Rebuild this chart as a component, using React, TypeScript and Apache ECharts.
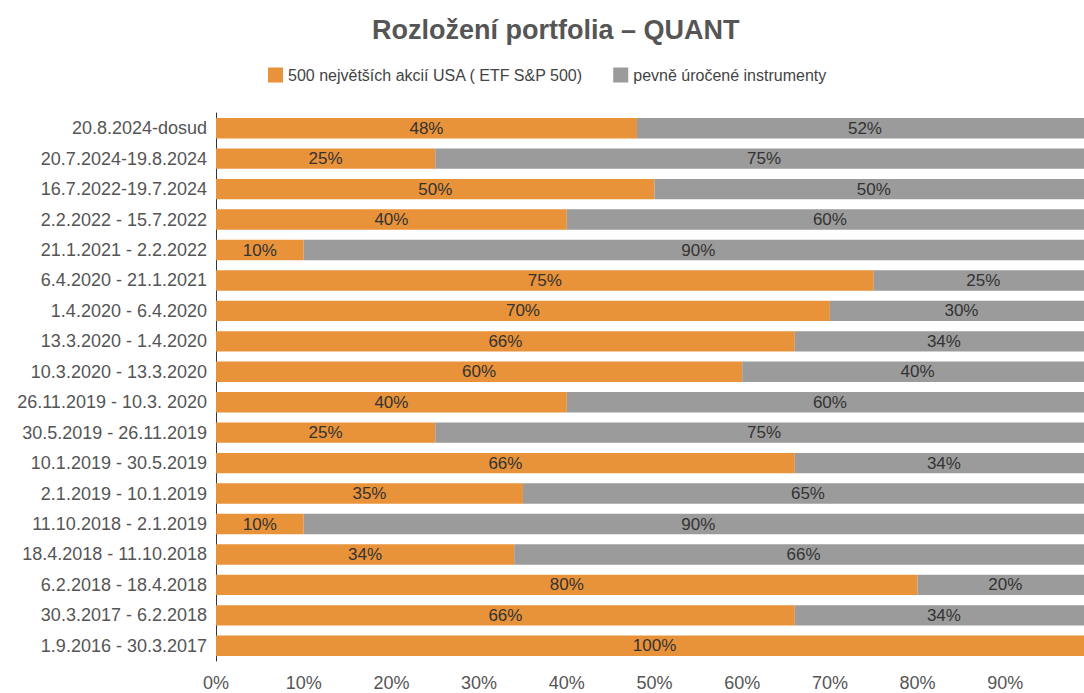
import React, { useEffect, useRef } from "react";
import * as echarts from "echarts";

const categories = [
  "20.8.2024-dosud",
  "20.7.2024-19.8.2024",
  "16.7.2022-19.7.2024",
  "2.2.2022 - 15.7.2022",
  "21.1.2021 - 2.2.2022",
  "6.4.2020 - 21.1.2021",
  "1.4.2020 - 6.4.2020",
  "13.3.2020 - 1.4.2020",
  "10.3.2020 - 13.3.2020",
  "26.11.2019 - 10.3. 2020",
  "30.5.2019 - 26.11.2019",
  "10.1.2019 - 30.5.2019",
  "2.1.2019 - 10.1.2019",
  "11.10.2018 - 2.1.2019",
  "18.4.2018 - 11.10.2018",
  "6.2.2018 - 18.4.2018",
  "30.3.2017 - 6.2.2018",
  "1.9.2016 - 30.3.2017",
];
const stocks = [48, 25, 50, 40, 10, 75, 70, 66, 60, 40, 25, 66, 35, 10, 34, 80, 66, 100];
const bonds = [52, 75, 50, 60, 90, 25, 30, 34, 40, 60, 75, 34, 65, 90, 66, 20, 34, 0];
const seriesNames = ["500 největších akcií USA ( ETF S&P 500)", "pevně úročené instrumenty"];
const tickLabels = [0, 10, 20, 30, 40, 50, 60, 70, 80, 90, 100];

const FONT = "'Liberation Sans', Arial, sans-serif";

export default function App() {
  const ref = useRef<HTMLDivElement>(null);
  useEffect(() => {
    if (!ref.current) return;
    const chart = echarts.init(ref.current, null, { renderer: "svg" });
    const label = {
      show: true,
      position: "inside",
      color: "#333",
      fontSize: 17,
      fontFamily: FONT,
      formatter: (p: any) => (p.value > 0 ? p.value + "%" : ""),
    };
    chart.setOption({
      animation: false,
      textStyle: { fontFamily: FONT },
      title: {
        text: "Rozložení portfolia – QUANT",
        left: 367,
        top: 11,
        textStyle: { fontSize: 27, fontWeight: "bold", color: "#555", fontFamily: FONT },
      },
      legend: {
        top: 62,
        left: 263,
        itemWidth: 15,
        itemHeight: 15,
        itemGap: 30,
        icon: "rect",
        textStyle: { fontSize: 16, color: "#444", fontFamily: FONT },
        data: seriesNames,
      },
      grid: {
        left: 216,
        width: 877,
        top: 113,
        bottom: 32,
        containLabel: false,
        outerBoundsMode: "none",
      },
      xAxis: {
        type: "value",
        min: tickLabels[0],
        max: tickLabels[tickLabels.length - 1],
        interval: 10,
        axisLine: { show: false },
        axisTick: { show: false },
        splitLine: { show: false },
        axisLabel: {
          fontSize: 18,
          lineHeight: 18,
          color: "#555",
          margin: 13,
          fontFamily: FONT,
          formatter: (v: number) => (v >= 100 ? "" : v + "%"),
        },
      },
      yAxis: {
        type: "category",
        data: categories,
        inverse: true,
        axisLine: { show: true, lineStyle: { color: "#333", width: 1 } },
        axisTick: { show: false },
        axisLabel: { fontSize: 18, color: "#555", margin: 9, fontFamily: FONT },
      },
      series: [
        {
          name: seriesNames[0],
          type: "bar",
          stack: "total",
          data: stocks,
          barCategoryGap: "33%",
          itemStyle: { color: "#E8923A" },
          label,
        },
        {
          name: seriesNames[1],
          type: "bar",
          stack: "total",
          data: bonds,
          itemStyle: { color: "#9B9B9B" },
          label,
        },
      ],
    });
    return () => chart.dispose();
  }, []);
  return (
    <div
      ref={ref}
      style={{ position: "absolute", left: 0, top: 0, width: 1084, height: 693, background: "#fff" }}
    />
  );
}
